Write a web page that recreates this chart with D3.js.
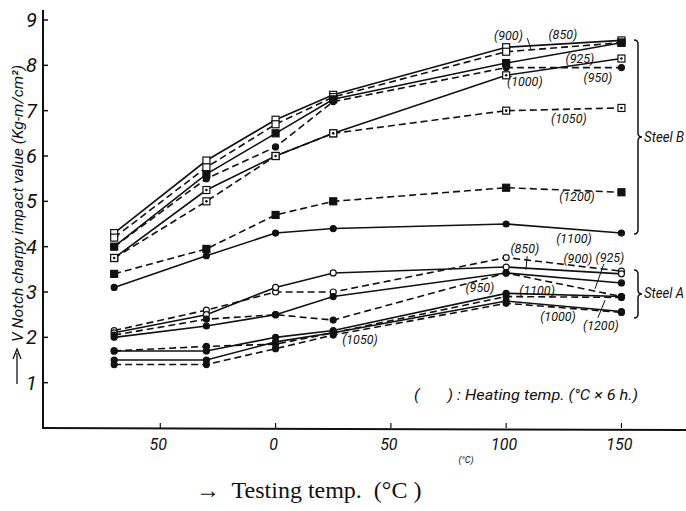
<!DOCTYPE html>
<html>
<head>
<meta charset="utf-8">
<script src="https://cdn.jsdelivr.net/npm/d3@7"></script>
<style>
  body { margin: 0; background: #fff; }
  svg { display: block; }
  .it { font-family: Roboto, "Liberation Sans", sans-serif; font-style: italic; fill: #111; }
</style>
</head>
<body>
<svg id="chart" width="686" height="511"></svg>
<script>
"use strict";

// testing temperatures (x) and heating temperatures (series)
var temps = [-70, -30, 0, 25, 100, 150];
var heatTemps = [850, 900, 925, 950, 1000, 1050, 1100, 1200];
var xTicks = [-50, 0, 50, 100, 150];
var xTickLabels = ['50', '0', '50', '100', '150'];
var yTicks = [1, 2, 3, 4, 5, 6, 7, 8, 9];

// impact values, one row per heating temp (same order as heatTemps)
var steelB = [
    [4.3, 5.9, 6.8, 7.35, 8.4, 8.55],
    [4.2, 5.75, 6.7, 7.3, 8.3, 8.5],
    [4.0, 5.6, 6.5, 7.25, 8.05, 8.5],
    [4.0, 5.5, 6.2, 7.2, 7.95, 7.95],
    [3.75, 5.25, 6.0, 6.5, 7.78, 8.15],
    [3.75, 5.0, 6.0, 6.5, 7.0, 7.06],
    [3.1, 3.8, 4.3, 4.4, 4.5, 4.3],
    [3.4, 3.95, 4.7, 5.0, 5.3, 5.2]
];
var steelA = [
    [2.15, 2.6, 3.0, 3.0, 3.76, 3.46],
    [2.1, 2.5, 3.1, 3.42, 3.55, 3.4],
    [2.0, 2.25, 2.5, 2.9, 3.42, 3.2],
    [2.05, 2.4, 2.5, 2.38, 3.42, 2.9],
    [1.5, 1.5, 1.9, 2.1, 2.8, 2.57],
    [1.4, 1.4, 1.75, 2.05, 2.75, 2.55],
    [1.7, 1.7, 2.0, 2.15, 2.97, 2.9],
    [1.7, 1.8, 1.85, 2.1, 2.9, 2.88]
];

// line style / marker per heating temp
var styleB = [
    { dash: false, mark: 'osq' }, { dash: true, mark: 'osq' }, { dash: false, mark: 'fsq' }, { dash: true, mark: 'fci' },
    { dash: false, mark: 'dsq' }, { dash: true, mark: 'dsq' }, { dash: false, mark: 'fci' }, { dash: true, mark: 'fsq' }
];
var styleA = [
    { dash: true, mark: 'oci' }, { dash: false, mark: 'oci' }, { dash: false, mark: 'fci' }, { dash: true, mark: 'fci' },
    { dash: false, mark: 'fci' }, { dash: true, mark: 'fci' }, { dash: false, mark: 'fci' }, { dash: true, mark: 'fci' }
];

// label positions in data units [testing temp, value]
var labelsB = [[124.6, 8.69], [101, 8.65], [132, 8.16], [139.8, 7.74], [108.1, 7.65], [127.2, 6.82], [129.4, 4.19], [130.7, 5.10]];
var labelsA = [[108.1, 3.95], [131.1, 3.73], [145, 3.77], [88.6, 3.09], [122.5, 2.45], [36.6, 1.96], [113.4, 3.04], [141.1, 2.27]];
var leaders = [
    [[109.2, 8.6], [110.9, 8.33]],
    [[109.1, 3.79], [108.6, 3.49]],
    [[142.4, 3.62], [138.5, 3.07]],
    [[139.8, 2.43], [142.9, 2.82]]
];

var svg = d3.select('#chart');
svg.append('rect').attr('width', 686).attr('height', 511).attr('fill', '#fff');

var x = d3.scaleLinear().domain([-100, 178]).range([45, 686]);
var y = d3.scaleLinear().domain([0, 9]).range([428, 20]);

// axes
svg.append('line').attr('x1', 43).attr('x2', 43).attr('y1', 429).attr('y2', 10)
    .attr('stroke', '#111').attr('stroke-width', 2);
svg.append('line').attr('x1', 42).attr('x2', 686).attr('y1', 428).attr('y2', 430)
    .attr('stroke', '#111').attr('stroke-width', 2);

svg.selectAll('.ytick').data(yTicks).enter().append('line')
    .attr('x1', 43).attr('x2', 48)
    .attr('y1', function(d) { return y(d); }).attr('y2', function(d) { return y(d); })
    .attr('stroke', '#111').attr('stroke-width', 1.5);
svg.selectAll('.ylab').data(yTicks).enter().append('text')
    .attr('class', 'it')
    .attr('x', 37).attr('y', function(d) { return y(d) + 7; })
    .attr('text-anchor', 'end').attr('font-size', 20)
    .text(function(d) { return d; });

svg.selectAll('.xtick').data(xTicks).enter().append('line')
    .attr('x1', function(d) { return x(d); }).attr('x2', function(d) { return x(d); })
    .attr('y1', 428).attr('y2', 423)
    .attr('stroke', '#111').attr('stroke-width', 1.2);
svg.selectAll('.xlab').data(xTicks).enter().append('text')
    .attr('class', 'it')
    .attr('x', function(d) { return x(d) - 2; }).attr('y', 450)
    .attr('text-anchor', 'middle').attr('font-size', 16)
    .text(function(d, i) { return xTickLabels[i]; });

svg.append('text').attr('class', 'it').attr('x', 466).attr('y', 463)
    .attr('text-anchor', 'middle').attr('font-size', 9).text('(°C)');

// series
var line = d3.line()
    .x(function(d, i) { return x(temps[i]); })
    .y(function(d) { return y(d); });

function drawMark(g, kind, cx, cy) {
    if (kind === 'oci' || kind === 'fci') {
        g.append('circle').attr('cx', cx).attr('cy', cy).attr('r', 3)
            .attr('fill', kind === 'fci' ? '#111' : '#fff').attr('stroke', '#111').attr('stroke-width', 1.2);
    } else {
        g.append('rect').attr('x', cx - 3.5).attr('y', cy - 3.5).attr('width', 7).attr('height', 7)
            .attr('fill', kind === 'fsq' ? '#111' : '#fff').attr('stroke', '#111').attr('stroke-width', 1.2);
        if (kind === 'dsq') {
            g.append('circle').attr('cx', cx).attr('cy', cy).attr('r', 1.3).attr('fill', '#111');
        }
    }
}

function drawGroup(rows, styles) {
    var g = svg.append('g');
    rows.forEach(function(vals, k) {
        g.append('path').attr('d', line(vals))
            .attr('fill', 'none').attr('stroke', '#111').attr('stroke-width', 1.6)
            .attr('stroke-dasharray', styles[k].dash ? '7,4' : null);
    });
    rows.forEach(function(vals, k) {
        vals.forEach(function(v, i) { drawMark(g, styles[k].mark, x(temps[i]), y(v)); });
    });
}
drawGroup(steelB, styleB);
drawGroup(steelA, styleA);

// heating temp labels
function drawLabels(pos) {
    svg.append('g').selectAll('text').data(pos).enter().append('text')
        .attr('class', 'it').attr('font-size', 12.5)
        .attr('x', function(d) { return x(d[0]); })
        .attr('y', function(d) { return y(d[1]) + 4.5; })
        .attr('text-anchor', 'middle')
        .text(function(d, i) { return '(' + heatTemps[i] + ')'; });
}
drawLabels(labelsB);
drawLabels(labelsA);

svg.append('g').selectAll('line').data(leaders).enter().append('line')
    .attr('x1', function(d) { return x(d[0][0]); }).attr('y1', function(d) { return y(d[0][1]); })
    .attr('x2', function(d) { return x(d[1][0]); }).attr('y2', function(d) { return y(d[1][1]); })
    .attr('stroke', '#111').attr('stroke-width', 1);

// braces
function brace(xb, y0, y1, w) {
    var ym = (y0 + y1) / 2;
    var p = d3.path();
    p.moveTo(xb - w, y0);
    p.quadraticCurveTo(xb, y0, xb, y0 + w);
    p.lineTo(xb, ym - w);
    p.quadraticCurveTo(xb, ym, xb + w, ym);
    p.quadraticCurveTo(xb, ym, xb, ym + w);
    p.lineTo(xb, y1 - w);
    p.quadraticCurveTo(xb, y1, xb - w, y1);
    return p.toString();
}
svg.append('path').attr('d', brace(638, 40, 234, 4)).attr('fill', 'none').attr('stroke', '#111').attr('stroke-width', 1.5);
svg.append('path').attr('d', brace(638, 270, 318, 4)).attr('fill', 'none').attr('stroke', '#111').attr('stroke-width', 1.5);
svg.append('text').attr('class', 'it').attr('x', 644).attr('y', 142).attr('font-size', 14)
    .attr('textLength', 40).attr('lengthAdjust', 'spacingAndGlyphs').text('Steel B');
svg.append('text').attr('class', 'it').attr('x', 644).attr('y', 298).attr('font-size', 14)
    .attr('textLength', 40).attr('lengthAdjust', 'spacingAndGlyphs').text('Steel A');

// legend note
svg.append('text').attr('class', 'it').attr('x', 414).attr('y', 400).attr('font-size', 14)
    .attr('xml:space', 'preserve').style('white-space', 'pre')
    .attr('textLength', 224).attr('lengthAdjust', 'spacingAndGlyphs')
    .text('(       ) : Heating temp. (°C × 6 h.)');

// y label
svg.append('line').attr('x1', 17).attr('x2', 17).attr('y1', 384).attr('y2', 353)
    .attr('stroke', '#111').attr('stroke-width', 1.3);
svg.append('path').attr('d', 'M13,359 L17,349 L21,359').attr('fill', 'none').attr('stroke', '#111').attr('stroke-width', 1.3);
svg.append('text').attr('class', 'it')
    .attr('transform', 'translate(23,342) rotate(-90)')
    .attr('font-size', 15)
    .attr('textLength', 277).attr('lengthAdjust', 'spacingAndGlyphs')
    .text('V Notch charpy impact value (Kg-m/cm²)');

// x title
svg.append('text').attr('x', 196).attr('y', 498)
    .attr('font-family', '"Liberation Serif", "DejaVu Serif", serif').attr('font-size', 24).attr('fill', '#111')
    .style('white-space', 'pre')
    .text('→  Testing temp.  (°C )');
</script>
</body>
</html>
